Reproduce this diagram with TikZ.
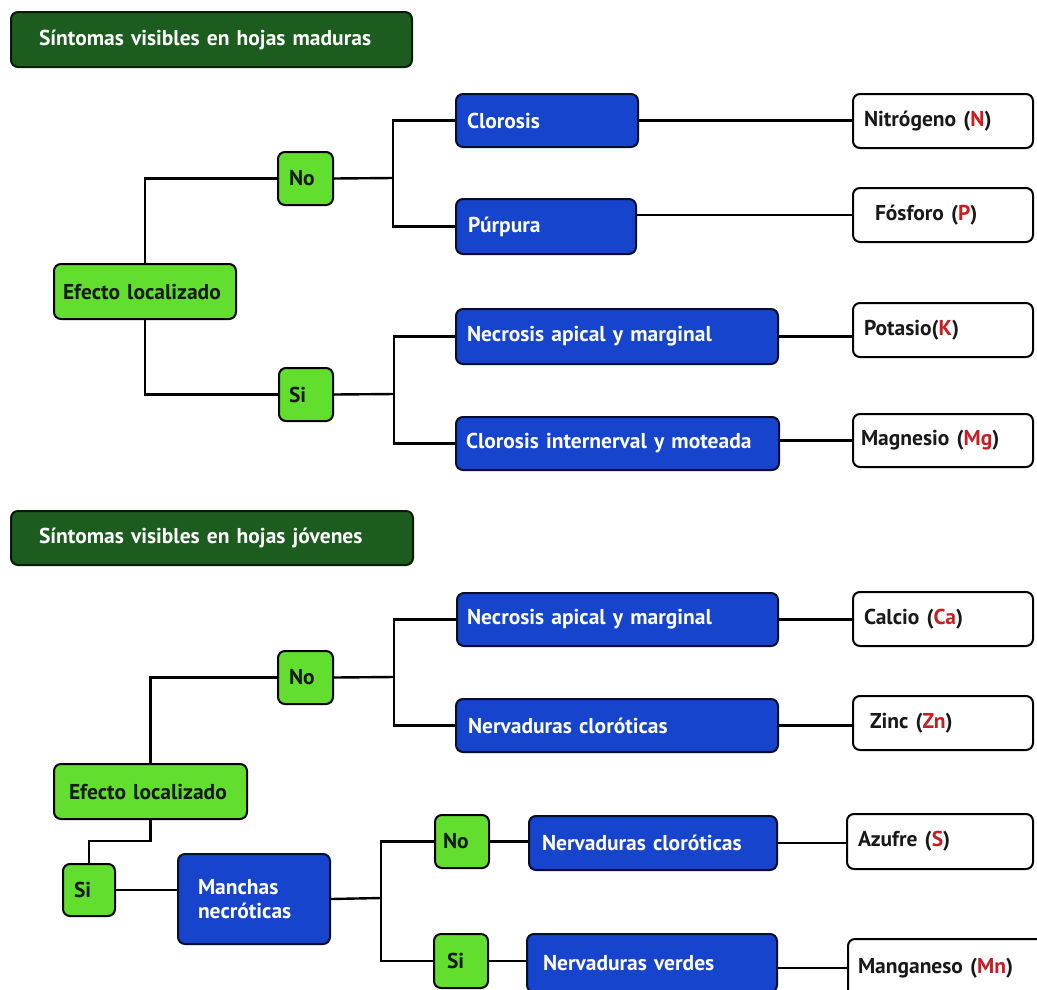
\documentclass[tikz,border=0pt]{standalone}
\usepackage{fontspec}
\setmainfont{PT Sans}
\definecolor{titlegreen}{RGB}{28,92,30}
\definecolor{lime}{RGB}{98,222,46}
\definecolor{royal}{RGB}{22,68,204}
\definecolor{elem}{RGB}{200,30,35}
\newcommand{\el}[1]{{\color{elem}#1}}
\begin{document}
\begin{tikzpicture}[x=1pt,y=-1pt,
  dims/.code n args={3}{\pgfmathsetmacro\boxtw{#1-2*#3}\edef\boxnext{\noexpand\tikzset{minimum height=#2pt, inner xsep=#3pt, text width=\boxtw pt}}\boxnext},
  base/.style={anchor=north west, rounded corners=7pt, line width=2pt, draw=black, align=left, inner ysep=2pt, font=\fontsize{21.5}{24}\selectfont\bfseries},
  titlebox/.style={base, fill=titlegreen, text=white, draw=black!70!titlegreen},
  greenbox/.style={base, fill=lime, text=black!90},
  bluebox/.style={base, fill=royal, text=white, draw=black!80!royal},
  whitebox/.style={base, fill=white, text=black!90},
  link/.style={line width=2.4pt, draw=black}]
\useasboundingbox (0,0) rectangle (1037,989);
\clip (0,0) rectangle (1037,989);
\fill[white] (0,0) rectangle (1037,989);

% ---------- top section ----------
\node[titlebox, dims={401}{55}{28}] (t1) at (10,11) {Síntomas visibles en hojas maduras};
\node[greenbox, dims={182}{55}{9}] (ef1) at (53,263) {Efecto localizado};
\node[greenbox, dims={55}{53}{11}] (no1) at (277,151) {No};
\node[greenbox, dims={54}{53}{10}] (si1) at (278,367) {Si};
\node[bluebox, dims={182}{53}{11}] (clo) at (455,93) {Clorosis};
\node[bluebox, dims={180}{55}{12}] (pur) at (455,198) {Púrpura};
\node[bluebox, dims={322}{55}{11}] (nec) at (455,308) {Necrosis apical y marginal};
\node[bluebox, dims={323}{53}{10}] (cin) at (455,416) {Clorosis internerval y moteada};
\node[whitebox, dims={180}{54}{11}] (nit) at (852,93) {Nitrógeno (\el{N})};
\node[whitebox, dims={180}{54}{22}] (fos) at (852,187) {Fósforo (\el{P})};
\node[whitebox, dims={180}{54}{11}] (pot) at (852,302) {Potasio(\el{K})};
\node[whitebox, dims={180}{53}{8}] (mag) at (852,413) {Magnesio (\el{Mg})};

\coordinate (b1) at (393,178);
\coordinate (b2) at (394,394);
\draw[link] (ef1.north) |- (no1.west);
\draw[link] (ef1.south) |- (si1.west);
\draw[link] (no1.east) -- (b1);
\draw[link] (clo.west) -| (b1) |- (pur.west);
\draw[link] (si1.east) -- (b2);
\draw[link] (nec.west) -| (b2) |- (cin.west);
\draw[link] (clo.east) -- (clo.east -| nit.west);
\draw[link] (pur.east |- fos.west) -- (fos.west);
\draw[link] (nec.east) -- (nec.east -| pot.west);
\draw[link] (cin.east |- mag.west) -- (mag.west);

% ---------- bottom section ----------
\node[titlebox, dims={402}{54}{28}] (t2) at (10,510) {Síntomas visibles en hojas jóvenes};
\node[greenbox, dims={55}{53}{11}] (no2) at (277,650) {No};
\node[greenbox, dims={193}{55}{15}] (ef2) at (53,763) {Efecto localizado};
\node[bluebox, dims={321}{53}{10}] (nec2) at (456,592) {Necrosis apical y marginal};
\node[bluebox, dims={322}{53}{12}] (ncl) at (455,698) {Nervaduras cloróticas};
\node[whitebox, dims={180}{54}{11}] (cal) at (852,591) {Calcio (\el{Ca})};
\node[whitebox, dims={180}{54}{17}] (zin) at (852,695) {Zinc (\el{Zn})};
\node[greenbox, dims={52}{52}{11}] (si2) at (62,863) {Si};
\node[bluebox, dims={152}{90}{20}] (man) at (177,853) {Manchas\\necróticas};
\node[greenbox, dims={54}{53}{8}] (no3) at (434,814) {No};
\node[greenbox, dims={54}{54}{13}] (si3) at (433,933) {Si};
\node[bluebox, dims={248}{54}{13}] (nc2) at (528,815) {Nervaduras cloróticas};
\node[bluebox, dims={250}{58}{16}] (nv) at (526,933) {Nervaduras verdes};
\node[whitebox, dims={186}{55}{11}] (azu) at (846,813) {Azufre (\el{S})};
\node[whitebox, dims={200}{58}{10}] (mn) at (847,938) {Manganeso (\el{Mn})};

\coordinate (b3) at (394,677);
\coordinate (b4) at (381,898);
\draw[link] (ef2.north) |- (no2.west);
\draw[link] (no2.east) -- (b3);
\draw[link] (nec2.west) -| (b3) |- (ncl.west);
\draw[link] (nec2.east) -- (nec2.east -| cal.west);
\draw[link] (ncl.east) -- (ncl.east -| zin.west);
\draw[link] (ef2.south) -- ++(0,21) -| (si2.north);
\draw[link] (si2.east) -- (si2.east -| man.west);
\draw[link] (man.east) -- (b4);
\draw[link] (no3.west) -| (b4) |- (si3.west);
\draw[link] (no3.east) -- (no3.east -| nc2.west);
\draw[link] (si3.east) -- (si3.east -| nv.west);
\draw[link] (nc2.east) -- (nc2.east -| azu.west);
\draw[link] (nv.east |- mn.west) -- (mn.west);
\end{tikzpicture}
\end{document}
